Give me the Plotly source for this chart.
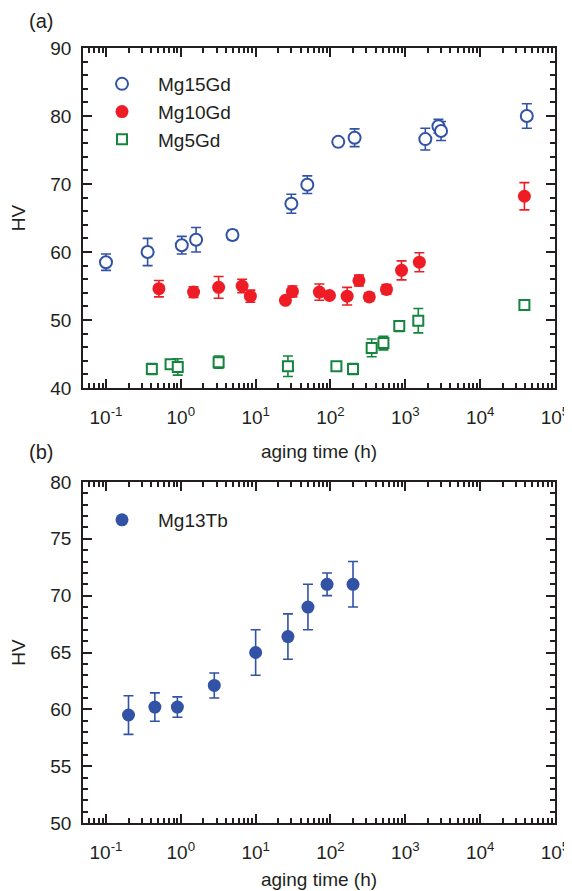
import plotly.graph_objects as go

# ---- data ----
t15 = [0.1, 0.36, 1.03, 1.6, 4.9, 30, 49, 127, 210, 1850, 2770, 3000, 42000]
hv15 = [58.5, 60.0, 61.0, 61.8, 62.5, 67.1, 69.9, 76.2, 76.8, 76.6, 78.5, 77.8, 80.0]
err15 = [1.2, 2.0, 1.3, 1.8, 0.7, 1.4, 1.3, 0.0, 1.3, 1.6, 1.0, 1.4, 1.8]

t10 = [0.51, 1.48, 3.2, 6.6, 8.5, 25, 31, 71, 97, 167, 240, 330, 560, 890, 1540, 39000]
hv10 = [54.6, 54.1, 54.8, 55.0, 53.5, 52.9, 54.2, 54.1, 53.6, 53.5, 55.8, 53.4, 54.5, 57.3, 58.5, 68.2]
err10 = [1.2, 0.8, 1.6, 1.0, 0.9, 0.3, 0.8, 1.2, 0.3, 1.3, 0.8, 0.6, 0.7, 1.4, 1.4, 2.0]

t5 = [0.41, 0.73, 0.91, 3.2, 27, 120, 200, 355, 510, 830, 1490, 39000]
hv5 = [42.8, 43.5, 43.1, 43.8, 43.2, 43.2, 42.8, 45.9, 46.6, 49.1, 49.9, 52.2]
err5 = [0.8, 0.5, 1.2, 0.9, 1.5, 0.5, 0.8, 1.3, 1.0, 0.8, 1.8, 0.6]

t13 = [0.2, 0.45, 0.9, 2.8, 10, 27, 50, 90, 200]
hv13 = [59.5, 60.2, 60.2, 62.1, 65.0, 66.4, 69.0, 71.0, 71.0]
err13 = [1.7, 1.25, 0.9, 1.1, 2.0, 2.0, 2.0, 1.0, 2.0]

x_tickvals = [0.1, 1, 10, 100, 1000, 10000, 100000]
x_ticktext = ["10<sup>-1</sup>", "10<sup>0</sup>", "10<sup>1</sup>", "10<sup>2</sup>",
              "10<sup>3</sup>", "10<sup>4</sup>", "10<sup>5</sup>"]

BLUE = "#3152a5"
RED = "#ee1d25"
GREEN = "#14853d"
AX = "#231f20"
FONT = "Liberation Sans, Arial, sans-serif"

# the page body has an 8px margin, so the figure is made 8px smaller and
# reference pixel positions are shifted accordingly
OFF = 8
W, H = 572 - OFF, 891 - OFF


def fx(px):
    return (px - OFF) / W


def fy(py):
    return 1 - (py - OFF) / H


fig = go.Figure()

fig.add_trace(go.Scatter(
    x=t15, y=hv15, mode="markers", name="Mg15Gd",
    marker=dict(symbol="circle", size=12, color="white", line=dict(color=BLUE, width=2)),
    error_y=dict(type="data", array=err15, color=BLUE, thickness=1.6, width=5),
    xaxis="x", yaxis="y", legend="legend"))
fig.add_trace(go.Scatter(
    x=t10, y=hv10, mode="markers", name="Mg10Gd",
    marker=dict(symbol="circle", size=13, color=RED, line=dict(width=0)),
    error_y=dict(type="data", array=err10, color=RED, thickness=1.6, width=5),
    xaxis="x", yaxis="y", legend="legend"))
fig.add_trace(go.Scatter(
    x=t5, y=hv5, mode="markers", name="Mg5Gd",
    marker=dict(symbol="square", size=10, color="white", line=dict(color=GREEN, width=2)),
    error_y=dict(type="data", array=err5, color=GREEN, thickness=1.6, width=5),
    xaxis="x", yaxis="y", legend="legend"))
fig.add_trace(go.Scatter(
    x=t13, y=hv13, mode="markers", name="Mg13Tb",
    marker=dict(symbol="circle", size=13, color=BLUE, line=dict(width=0)),
    error_y=dict(type="data", array=err13, color=BLUE, thickness=1.6, width=5),
    xaxis="x2", yaxis="y2", legend="legend2"))

xdom = [fx(83), fx(555)]
ya_dom = [fy(388), fy(48)]
yb_dom = [fy(823), fy(482)]

minor_log = dict(ticks="inside", ticklen=5, tickwidth=1.5, tickcolor=AX, dtick="D1", showgrid=False)


def xaxis_cfg(anchor, standoff):
    return dict(
        type="log", range=[-1.307, 5], domain=xdom, anchor=anchor, automargin=False,
        tickmode="array", tickvals=x_tickvals, ticktext=x_ticktext,
        ticks="inside", ticklen=9, tickwidth=1.5, tickcolor=AX,
        showline=True, linecolor=AX, linewidth=1.5, mirror="ticks",
        showgrid=False, zeroline=False,
        minor=minor_log,
        tickfont=dict(family=FONT, size=19, color=AX),
        ticklabelstandoff=11,
        title=dict(text="aging time (h)", font=dict(family=FONT, size=19, color=AX), standoff=standoff),
    )


def yaxis_cfg(dom, rng, dtick, minor_dtick, anchor):
    return dict(
        domain=dom, range=rng, anchor=anchor, dtick=dtick, tick0=0, automargin=False,
        ticks="inside", ticklen=9, tickwidth=1.5, tickcolor=AX,
        showline=True, linecolor=AX, linewidth=1.5, mirror="ticks",
        showgrid=False, zeroline=False,
        minor=dict(ticks="inside", ticklen=5, tickwidth=1.5, tickcolor=AX, dtick=minor_dtick, showgrid=False),
        tickfont=dict(family=FONT, size=19, color=AX),
        ticklabelstandoff=6,
        title=dict(text="HV", font=dict(family=FONT, size=19, color=AX), standoff=20),
    )


fig.update_layout(
    width=W, height=H,
    margin=dict(l=0, r=0, t=0, b=0, autoexpand=False),
    paper_bgcolor="white", plot_bgcolor="white",
    font=dict(family=FONT, size=19, color=AX),
    showlegend=True,
    xaxis=xaxis_cfg("y", 18),
    yaxis=yaxis_cfg(ya_dom, [40, 90], 10, 2, "x"),
    xaxis2=xaxis_cfg("y2", 11),
    yaxis2=yaxis_cfg(yb_dom, [50, 80], 5, 1, "x2"),
    legend=dict(x=fx(86), y=fy(65), xanchor="left", yanchor="top",
                bgcolor="rgba(0,0,0,0)", itemwidth=62,
                font=dict(family=FONT, size=19, color=AX), tracegroupgap=0),
    legend2=dict(x=fx(86), y=fy(501), xanchor="left", yanchor="top",
                 bgcolor="rgba(0,0,0,0)", itemwidth=62,
                 font=dict(family=FONT, size=19, color=AX)),
    annotations=[
        dict(text="(a)", x=fx(27), y=fy(8), xref="paper", yref="paper",
             xanchor="left", yanchor="top", showarrow=False,
             font=dict(family=FONT, size=20, color=AX)),
        dict(text="(b)", x=fx(27), y=fy(452), xref="paper", yref="paper",
             xanchor="left", yanchor="middle", showarrow=False,
             font=dict(family=FONT, size=20, color=AX)),
    ],
)

fig.write_html("out.html")
